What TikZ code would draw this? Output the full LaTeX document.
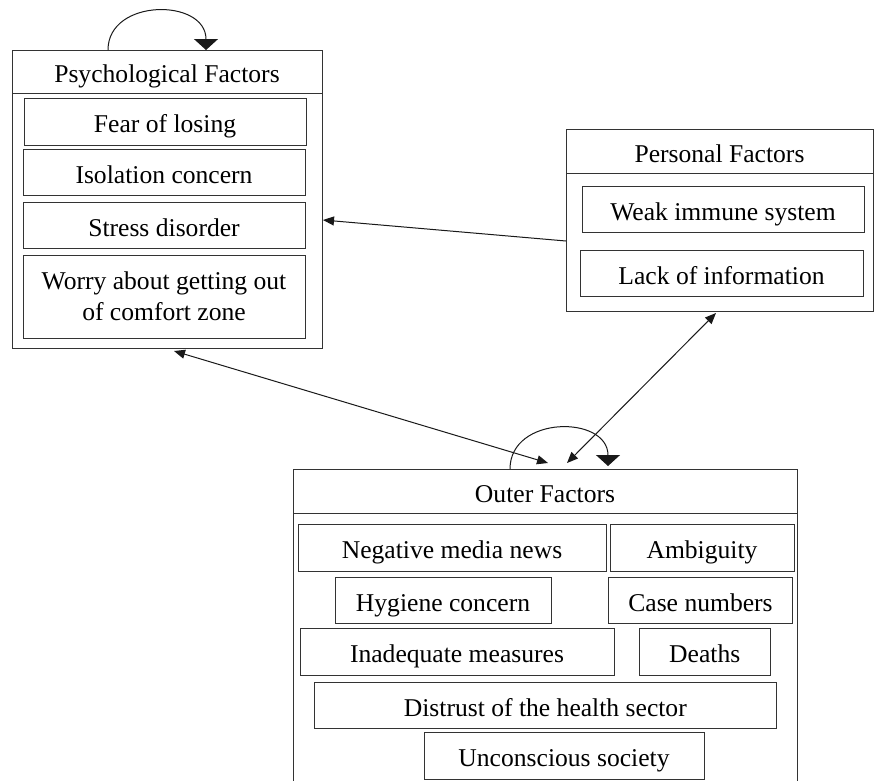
\documentclass[tikz,border=0pt]{standalone}
\usepackage{fontspec}
\setmainfont{Liberation Serif}
\usetikzlibrary{arrows.meta}
\newcommand\fs{\fontsize{25.6}{31}\selectfont}
\tikzset{
  frame/.style={draw=black!80, line width=1pt, inner sep=0pt, outer sep=0pt},
  item/.style={draw=black!80, line width=1pt, inner sep=0pt, outer sep=0pt,
    font=\fs, text height=24pt, text depth=2pt},
  title/.style={inner sep=0pt, font=\fs, text height=24pt, text depth=2pt},
  multi/.style={draw=black!80, line width=1pt, inner sep=0pt, outer sep=0pt,
    font=\fs, align=center},
  conn/.style={line width=1pt, draw=black!90},
  tip/.style={-{Triangle[length=11pt,width=9pt]}},
  twotip/.style={{Triangle[length=11pt,width=9pt]}-{Triangle[length=11pt,width=9pt]}},
  looptip/.style={-{Triangle[length=11pt,width=24pt]}},
}
\begin{document}
\begin{tikzpicture}[x=1pt,y=-1pt]
\useasboundingbox (0,0) rectangle (874,780);
\clip (0,0) rectangle (874,780);
\fill[white] (0,0) rectangle (874,780);

% Psychological factors
\node[frame, minimum width=310pt, minimum height=298pt] (psych) at (167,199) {};
\draw[frame] (12,93) -- (322,93);
\node[title] (psychtitle) at (167,71.5) {Psychological Factors};
\node[item, minimum width=282pt, minimum height=47pt] (fear) at (165,121.5) {Fear of losing};
\node[item, minimum width=282pt, minimum height=46pt] (iso) at (164,172) {Isolation concern};
\node[item, minimum width=282pt, minimum height=46pt] (stress) at (164,225) {Stress disorder};
\node[multi, minimum width=282pt, minimum height=83pt] (worry) at (164,296.5) {Worry about getting out\\of comfort zone};

% Personal factors
\node[frame, minimum width=307pt, minimum height=182pt] (personal) at (719.5,220) {};
\draw[frame] (566,173) -- (873,173);
\node[title] (personaltitle) at (719.5,151) {Personal Factors};
\node[item, minimum width=282pt, minimum height=46pt] (weak) at (723,209) {Weak immune system};
\node[item, minimum width=283pt, minimum height=46pt] (lack) at (721.5,273) {Lack of information};

% Outer factors
\node[frame, minimum width=504pt, minimum height=331pt] (outer) at (545,634.5) {};
\draw[frame] (293,513) -- (797,513);
\node[title] (outertitle) at (545,491) {Outer Factors};
\node[item, minimum width=308pt, minimum height=47pt] (neg) at (452,547.5) {Negative media news};
\node[item, minimum width=184pt, minimum height=47pt] (amb) at (702,547.5) {Ambiguity};
\node[item, minimum width=216pt, minimum height=46pt] (hyg) at (443,600) {Hygiene concern};
\node[item, minimum width=184pt, minimum height=46pt] (case) at (700.5,600) {Case numbers};
\node[item, minimum width=314pt, minimum height=47pt] (inad) at (457,651.5) {Inadequate measures};
\node[item, minimum width=131.5pt, minimum height=47pt] (deaths) at (704.75,651.5) {Deaths};
\node[item, minimum width=462.6pt, minimum height=46pt] (distrust) at (545.3,705) {Distrust of the health sector};
\node[item, minimum width=280pt, minimum height=47pt] (uncon) at (564,755.5) {Unconscious society};

% Connectors
\draw[conn, tip] ([yshift=-21pt]personal.west) -- ([xshift=1pt,yshift=-21pt]psych.east);
\draw[conn, twotip] ([xshift=7pt,yshift=-3pt]psych.south) -- ([xshift=3pt,yshift=6pt]outer.north);
\draw[conn, twotip] ([xshift=-3.5pt,yshift=-2pt]personal.south) -- ([xshift=22pt,yshift=6pt]outer.north);

% Self loops
\draw[conn, looptip] ([xshift=-59pt]psych.north) .. controls +(0,-52) and +(0,-52) .. ([xshift=39pt]psych.north);
\draw[conn, looptip] ([xshift=-35pt]outer.north) .. controls +(0,-54) and +(0,-51) .. ([xshift=63pt,yshift=3pt]outer.north);
\end{tikzpicture}
\end{document}
